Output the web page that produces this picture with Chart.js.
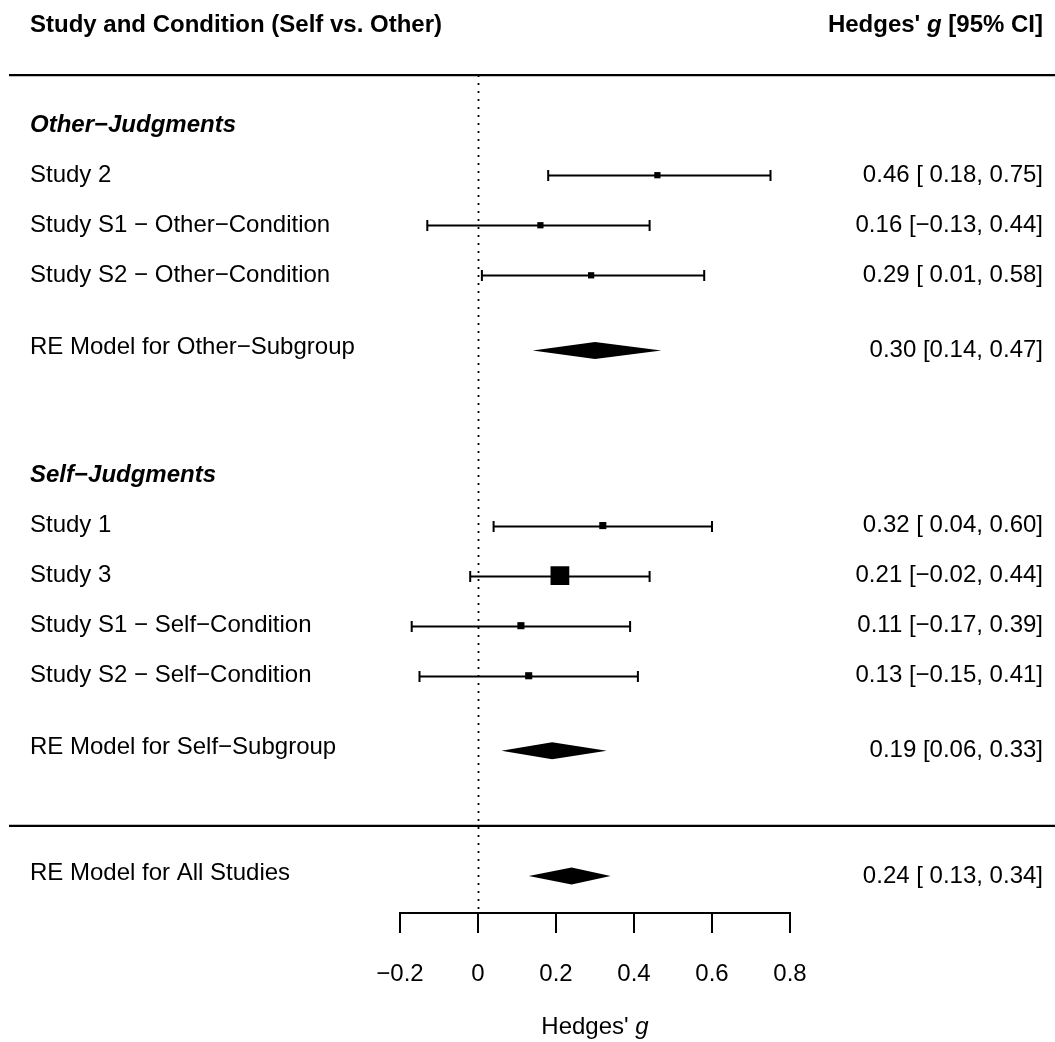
<!DOCTYPE html>
<html>
<head>
<meta charset="utf-8">
<script src="https://cdn.jsdelivr.net/npm/chart.js@4.4.1/dist/chart.umd.min.js"></script>
<style>
  html, body { margin: 0; padding: 0; background: #ffffff; }
  #wrap { width: 1055px; height: 1042px; position: relative; }
</style>
</head>
<body>
<div id="wrap"><canvas id="forest"></canvas></div>
<script>
// Individual studies (Hedges' g with 95% CI), grouped by condition
const studyLabels = [
  'Study 2',
  'Study S1 \u2212 Other\u2212Condition',
  'Study S2 \u2212 Other\u2212Condition',
  'Study 1',
  'Study 3',
  'Study S1 \u2212 Self\u2212Condition',
  'Study S2 \u2212 Self\u2212Condition'
];
const studyRows  = [13, 12, 11, 6, 5, 4, 3];
const studyEst   = [0.46, 0.16, 0.29, 0.32, 0.21, 0.11, 0.13];
const studyLower = [0.18, -0.13, 0.01, 0.04, -0.02, -0.17, -0.15];
const studyUpper = [0.75, 0.44, 0.58, 0.60, 0.44, 0.39, 0.41];

// Subgroup headings
const groupLabels = ['Other\u2212Judgments', 'Self\u2212Judgments'];
const groupRows   = [14, 7];

// Random-effects summaries
const summaryLabels = ['RE Model for Other\u2212Subgroup', 'RE Model for Self\u2212Subgroup', 'RE Model for All Studies'];
const summaryRows   = [9.5, 1.5, -1];
const summaryEst    = [0.30, 0.19, 0.24];
const summaryLower  = [0.14, 0.06, 0.13];
const summaryUpper  = [0.47, 0.33, 0.34];
const summaryPadded = [false, false, true];

// Column headers and axis
const headerLeft = 'Study and Condition (Self vs. Other)';
const headerRow = 16;
const topRuleRow = 15;
const midRuleRow = 0;
const xTicks = [-0.2, 0, 0.2, 0.4, 0.6, 0.8];

const FAMILY = '"Liberation Sans", Arial, Helvetica, sans-serif';
const FS = 24;

const MINUS = '\u2212';
function fmt(v) {
  const s = Math.abs(v).toFixed(2);
  return (v < 0 ? MINUS : '') + s;
}
function ciText(est, lo, hi, padded) {
  const l = (padded && lo >= 0 ? ' ' : '') + fmt(lo);
  return fmt(est) + ' [' + l + ', ' + fmt(hi) + ']';
}

// Marker size from inverse-variance weights (CI width -> SE)
const weights = studyLower.map((lo, i) => {
  const se = (studyUpper[i] - lo) / (2 * 1.96);
  return 1 / (se * se);
});
const wMin = Math.min(...weights), wMax = Math.max(...weights);
const psize = weights.map(w => (w - wMin) / (wMax - wMin) + 0.5);
const pointRadii = psize.map(p => (p * 12.5) / (2 * Math.SQRT1_2));

const forestPlugin = {
  id: 'forestDecor',
  beforeDatasetsDraw(chart) {
    const { ctx, scales: { x, y }, chartArea } = chart;
    ctx.save();
    // reference line at zero
    ctx.strokeStyle = '#000';
    ctx.lineWidth = 1.8;
    ctx.setLineDash([2, 6]);
    ctx.beginPath();
    const x0 = Math.round(x.getPixelForValue(0)) + 0.5;
    ctx.moveTo(x0, y.getPixelForValue(topRuleRow));
    ctx.lineTo(x0, chartArea.bottom);
    ctx.stroke();
    ctx.setLineDash([]);

    // confidence intervals with end caps
    ctx.lineWidth = 2;
    studyRows.forEach((r, i) => {
      const py = Math.round(y.getPixelForValue(r)) + 0.5;
      const pl = x.getPixelForValue(studyLower[i]);
      const pu = x.getPixelForValue(studyUpper[i]);
      ctx.beginPath();
      ctx.moveTo(pl, py); ctx.lineTo(pu, py);
      ctx.moveTo(pl, py - 5.5); ctx.lineTo(pl, py + 5.5);
      ctx.moveTo(pu, py - 5.5); ctx.lineTo(pu, py + 5.5);
      ctx.stroke();
    });
    ctx.restore();
  },
  afterDraw(chart) {
    const { ctx, scales: { x, y }, chartArea, width } = chart;
    ctx.save();
    ctx.fillStyle = '#000';
    ctx.strokeStyle = '#000';

    // horizontal rules
    ctx.lineWidth = 2.4;
    [topRuleRow, midRuleRow].forEach(r => {
      const py = y.getPixelForValue(r);
      ctx.beginPath();
      ctx.moveTo(9, py); ctx.lineTo(width, py);
      ctx.stroke();
    });

    // summary diamonds
    summaryRows.forEach((r, i) => {
      const py = y.getPixelForValue(r);
      const h = 8.5;
      ctx.beginPath();
      ctx.moveTo(x.getPixelForValue(summaryLower[i]), py);
      ctx.lineTo(x.getPixelForValue(summaryEst[i]), py - h);
      ctx.lineTo(x.getPixelForValue(summaryUpper[i]), py);
      ctx.lineTo(x.getPixelForValue(summaryEst[i]), py + h);
      ctx.closePath();
      ctx.fill();
    });

    const leftX = 30, rightX = 1043;
    ctx.textBaseline = 'middle';

    // column headers
    const hy = y.getPixelForValue(headerRow);
    ctx.font = 'bold ' + FS + 'px ' + FAMILY;
    ctx.textAlign = 'left';
    ctx.fillText(headerLeft, leftX, hy);
    const parts = [
      { t: 'Hedges\' ', f: 'bold ' + FS + 'px ' + FAMILY },
      { t: 'g', f: 'italic bold ' + FS + 'px ' + FAMILY },
      { t: ' [95% CI]', f: 'bold ' + FS + 'px ' + FAMILY }
    ];
    let total = 0;
    parts.forEach(p => { ctx.font = p.f; p.w = ctx.measureText(p.t).width; total += p.w; });
    let cx = rightX - total;
    parts.forEach(p => { ctx.font = p.f; ctx.fillText(p.t, cx, hy); cx += p.w; });

    // subgroup headings
    ctx.font = 'italic bold ' + FS + 'px ' + FAMILY;
    groupRows.forEach((r, i) => ctx.fillText(groupLabels[i], leftX, y.getPixelForValue(r)));

    // study labels and estimates
    ctx.font = FS + 'px ' + FAMILY;
    studyRows.forEach((r, i) => {
      const py = y.getPixelForValue(r);
      ctx.textAlign = 'left';
      ctx.fillText(studyLabels[i], leftX, py);
      ctx.textAlign = 'right';
      ctx.fillText(ciText(studyEst[i], studyLower[i], studyUpper[i], true), rightX, py);
    });
    summaryRows.forEach((r, i) => {
      const py = y.getPixelForValue(r);
      ctx.textAlign = 'left';
      ctx.fillText(summaryLabels[i], leftX, py - 3);
      ctx.textAlign = 'right';
      ctx.fillText(ciText(summaryEst[i], summaryLower[i], summaryUpper[i], summaryPadded[i]), rightX, py);
    });

    // axis title with italic g
    const tParts = [
      { t: 'Hedges\' ', f: FS + 'px ' + FAMILY },
      { t: 'g', f: 'italic ' + FS + 'px ' + FAMILY }
    ];
    let tw = 0;
    tParts.forEach(p => { ctx.font = p.f; p.w = ctx.measureText(p.t).width; tw += p.w; });
    let tx = (chartArea.left + chartArea.right) / 2 - tw / 2;
    const ty = chartArea.bottom + 114;
    ctx.textAlign = 'left';
    tParts.forEach(p => { ctx.font = p.f; ctx.fillText(p.t, tx, ty); tx += p.w; });
    ctx.restore();
  }
};

new Chart(document.getElementById('forest'), {
  type: 'scatter',
  data: {
    datasets: [{
      data: studyRows.map((r, i) => ({ x: studyEst[i], y: r })),
      pointStyle: 'rect',
      pointRadius: pointRadii,
      backgroundColor: '#000',
      borderWidth: 0
    }]
  },
  options: {
    responsive: true,
    maintainAspectRatio: false,
    animation: false,
    events: [],
    layout: { autoPadding: false, padding: { left: 400, right: 265, top: 0, bottom: 0 } },
    plugins: { legend: { display: false }, tooltip: { enabled: false } },
    scales: {
      x: {
        type: 'linear',
        min: xTicks[0],
        max: xTicks[xTicks.length - 1],
        afterFit(scale) { scale.height = 129; },
        afterBuildTicks(scale) { scale.ticks = xTicks.map(v => ({ value: v })); },
        border: { display: true, color: '#000', width: 2 },
        grid: { display: true, drawOnChartArea: false, drawTicks: true, tickLength: 20, color: '#000', lineWidth: 2 },
        ticks: {
          autoSkip: false,
          maxRotation: 0,
          padding: 27,
          color: '#000',
          font: { family: FAMILY, size: FS },
          callback(v) { return Math.abs(v) < 1e-9 ? '0' : fmt(v).replace(/0$/, '').replace(/\.$/, ''); }
        }
      },
      y: {
        type: 'linear',
        display: false,
        min: -1.74,
        max: 16.5
      }
    }
  },
  plugins: [forestPlugin]
});
</script>
</body>
</html>
